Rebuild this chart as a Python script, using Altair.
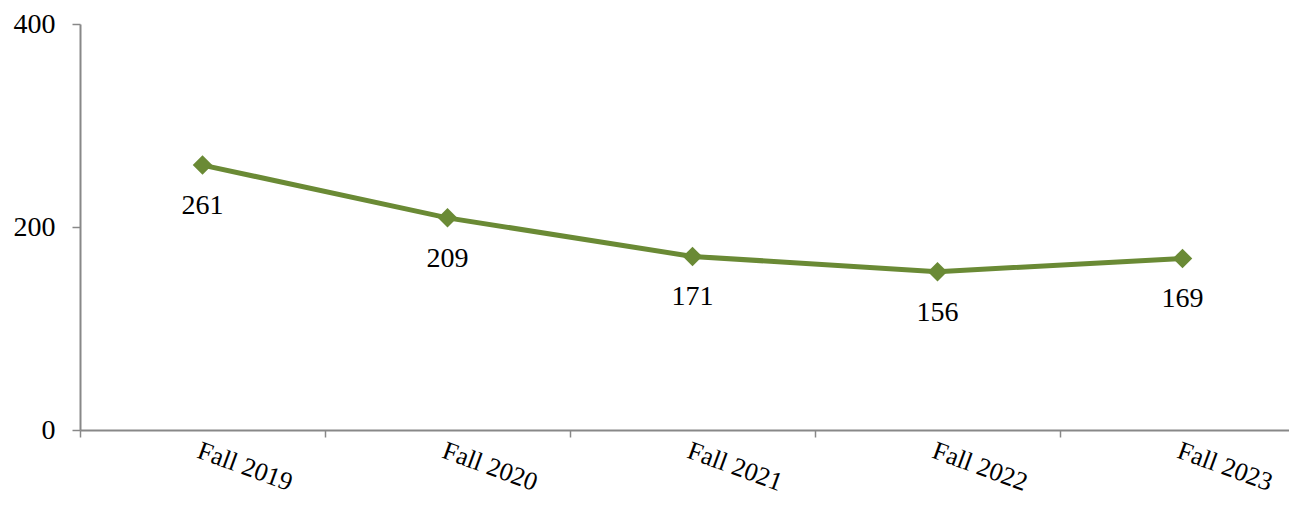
import altair as alt
import pandas as pd

terms = ["Fall 2019", "Fall 2020", "Fall 2021", "Fall 2022", "Fall 2023"]
values = [261, 209, 171, 156, 169]

df = pd.DataFrame({"term": terms, "value": values})

COLOR = "#6A8A35"
FONT = "Liberation Serif"

x = alt.X(
    "term:N",
    sort=terms,
    scale=alt.Scale(type="band", paddingInner=0, paddingOuter=0, range=[0, 1225]),
    axis=alt.Axis(
        title=None,
        labelAngle=20,
        labelAlign="left",
        labelBaseline="top",
        labelFont=FONT,
        labelFontSize=26,
        labelColor="#000000",
        labelPadding=0,
        tickBand="extent",
        tickSize=7,
        tickColor="#888888",
        domainColor="#888888",
        domainWidth=2,
        tickWidth=1.5,
        grid=False,
    ),
)
y = alt.Y(
    "value:Q",
    scale=alt.Scale(domain=[0, 400], nice=False),
    axis=alt.Axis(
        title=None,
        values=[0, 200, 400],
        labelFont=FONT,
        labelFontSize=28,
        labelColor="#000000",
        labelPadding=17,
        tickSize=8,
        tickColor="#888888",
        domainColor="#888888",
        domainWidth=2,
        tickWidth=1.5,
        grid=False,
    ),
)

line = alt.Chart(df).mark_line(color=COLOR, strokeWidth=5).encode(x=x, y=y)
pts = alt.Chart(df).mark_point(
    shape="diamond", filled=True, size=380, color=COLOR, opacity=1
).encode(x=x, y=y)
labels = alt.Chart(df).mark_text(
    font=FONT, fontSize=28, color="#000000", baseline="alphabetic", dy=49
).encode(x=x, y=y, text="value:Q")

chart = (
    alt.layer(line, pts, labels)
    .properties(
        width=1209,
        height=406,
        autosize=alt.AutoSizeParams(type="none"),
        padding={"left": 72, "top": 16, "right": 0, "bottom": 68},
    )
    .configure_view(stroke=None)
)

chart.save("out.html", embed_options={"renderer": "svg", "actions": False})
